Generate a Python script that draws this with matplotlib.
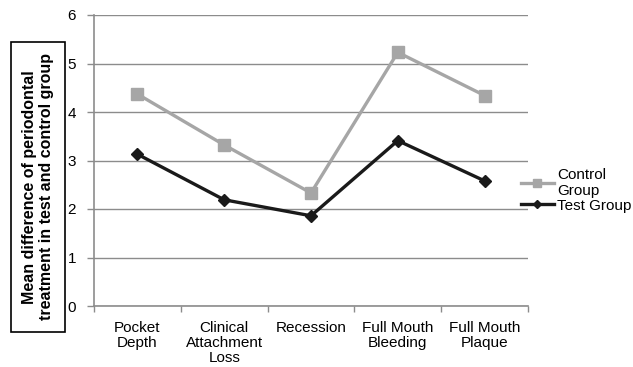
import matplotlib
matplotlib.use("Agg")
import matplotlib.pyplot as plt
from matplotlib.ticker import FixedLocator, NullFormatter

plt.rcParams['font.family'] = ['Liberation Sans', 'DejaVu Sans']

categories = ["Pocket\nDepth", "Clinical\nAttachment\nLoss", "Recession", "Full Mouth\nBleeding", "Full Mouth\nPlaque"]
control = [4.37, 3.32, 2.33, 5.23, 4.34]
test = [3.13, 2.19, 1.86, 3.41, 2.58]
series_names = ["Control\nGroup", "Test Group"]
y_label = "Mean difference of periodontal\ntreatment in test and control group"

W, H = 633, 367
fig = plt.figure(figsize=(W / 100, H / 100), dpi=100)
ax = fig.add_axes([94 / W, 1 - 306 / H, (528 - 94) / W, (306 - 15) / H])

x = list(range(len(categories)))
ax.plot(x, control, color="#a6a6a6", lw=2.4, marker="s", ms=8.5, label=series_names[0], zorder=3)
ax.plot(x, test, color="#1a1a1a", lw=2.4, marker="D", ms=6, label=series_names[1], zorder=4)

ax.set_xlim(-0.5, len(categories) - 0.5)
ax.set_ylim(0, 6)
ax.set_yticks(range(0, 7))
ax.yaxis.grid(True, color="#8c8c8c", lw=1)
ax.set_axisbelow(True)

ax.set_xticks(x)
ax.set_xticklabels(categories, fontsize=11, va="top", linespacing=1.1)
ax.tick_params(axis="x", length=0, pad=11)
ax.xaxis.set_minor_locator(FixedLocator([i - 0.5 for i in range(len(categories) + 1)]))
ax.xaxis.set_minor_formatter(NullFormatter())
ax.tick_params(axis="x", which="minor", length=4, color="#8c8c8c", width=1)
ax.tick_params(axis="y", length=5, color="#8c8c8c", width=1, labelsize=11, pad=8)

for s in ["top", "right"]:
    ax.spines[s].set_visible(False)
for s in ["left", "bottom"]:
    ax.spines[s].set_color("#8c8c8c")
    ax.spines[s].set_linewidth(1.2)

fig.text(38 / W, 1 - 187 / H, y_label, rotation=90, ha="center", va="center",
         fontsize=11.5, fontweight="bold", linespacing=1.15,
         bbox=dict(boxstyle="square,pad=0.7", fc="white", ec="black", lw=1.2))

leg = fig.legend(loc="upper left", bbox_to_anchor=(513 / W, 1 - 160 / H), frameon=False,
                 fontsize=11, handlelength=2.2, handletextpad=0.2, borderpad=0,
                 labelspacing=0.05, markerscale=0.65)

fig.savefig("out.png", dpi=100)
